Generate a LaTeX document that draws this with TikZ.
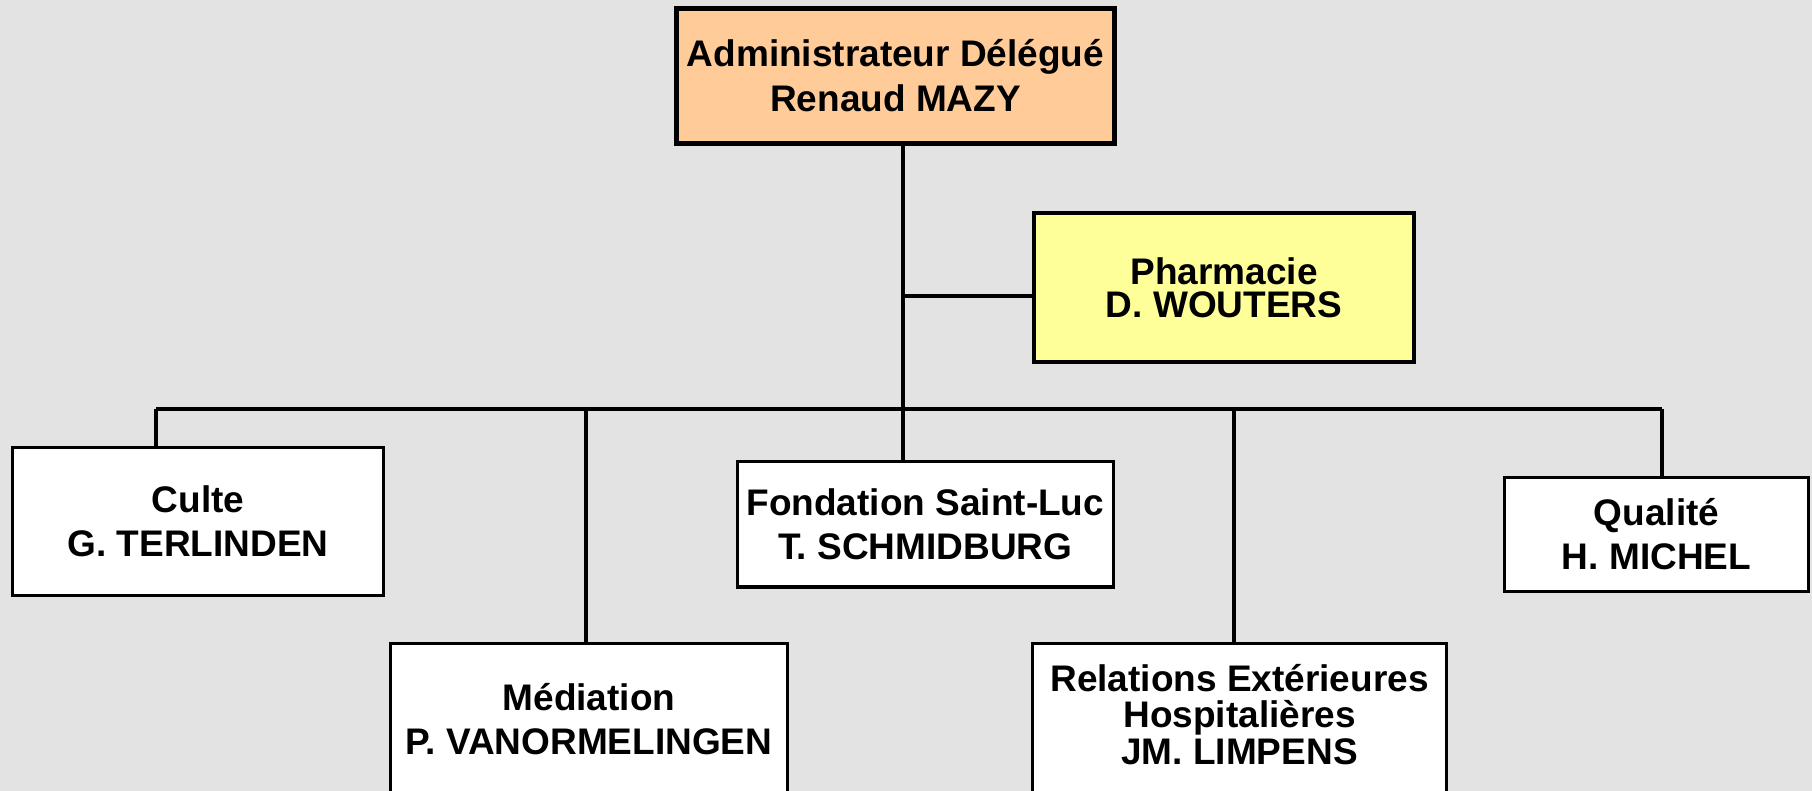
\documentclass[tikz,border=0pt]{standalone}
\usepackage{fontspec}
\setmainfont{Liberation Sans}
\definecolor{bgc}{HTML}{E3E3E3}
\definecolor{peach}{HTML}{FFCC99}
\definecolor{lyel}{HTML}{FFFF99}
\begin{document}
\begin{tikzpicture}[x=1pt,y=-1pt,
  box/.style={draw=black, fill=white, line width=3.4pt, inner sep=0pt, align=center,
    font=\bfseries\fontsize{37}{44}\selectfont},
  txt/.style={inner sep=0pt, align=center, font=\bfseries\fontsize{37}{44}\selectfont},
  conn/.style={draw=black, line width=3.3pt}]
\useasboundingbox (0,0) rectangle (1812,791);
\clip (0,0) rectangle (1812,791);
\fill[bgc] (0,0) rectangle (1812,791);

% boxes
\node[box, fill=peach, line width=5pt, minimum width=438pt, minimum height=135pt,
  font=\bfseries\fontsize{37}{45}\selectfont] (top) at (895.5,76) {Administrateur Délégué\\Renaud MAZY};
\node[box, fill=lyel, line width=4pt, minimum width=380pt, minimum height=149pt,
  font=\bfseries\fontsize{37}{33}\selectfont] (pharm) at (1224,288) {Pharmacie\\D. WOUTERS};
\node[box, minimum width=370.6pt, minimum height=147.6pt] (culte) at (198,521.5) {Culte\\G. TERLINDEN};
\node[box, minimum width=396.6pt, minimum height=150.6pt] (med) at (589,719) {Médiation\\P. VANORMELINGEN};
\node[box, minimum width=376pt, minimum height=125.6pt] (fond) at (925.3,524) {Fondation Saint-Luc\\T. SCHMIDBURG};
\node[box, minimum width=413.6pt, minimum height=200pt] (rel) at (1239.5,743.7) {};
\node[txt, font=\bfseries\fontsize{37}{36.5}\selectfont] (relt) at (1239.5,714.5) {Relations Extérieures\\Hospitalières\\JM. LIMPENS};
\node[box, minimum width=303.6pt, minimum height=113.6pt] (qual) at (1656.5,534.5) {Qualité\\H. MICHEL};

% junctions
\coordinate (s1) at (156,409);
\coordinate (s2) at (586,409);
\coordinate (s3) at (903,409);
\coordinate (s4) at (1234,409);
\coordinate (s5) at (1662,409);
\coordinate (pj) at (903,296);

% connectors
\draw[conn] (s3 |- top.south) -- (s3 |- fond.north);
\draw[conn] (pj) -- (pj -| pharm.west);
\draw[conn] (s1) -- (s5);
\draw[conn] (s1) -- (s1 |- culte.north);
\draw[conn] (s2) -- (s2 |- med.north);
\draw[conn] (s4) -- (s4 |- rel.north);
\draw[conn] (s5) -- (s5 |- qual.north);
\end{tikzpicture}
\end{document}
